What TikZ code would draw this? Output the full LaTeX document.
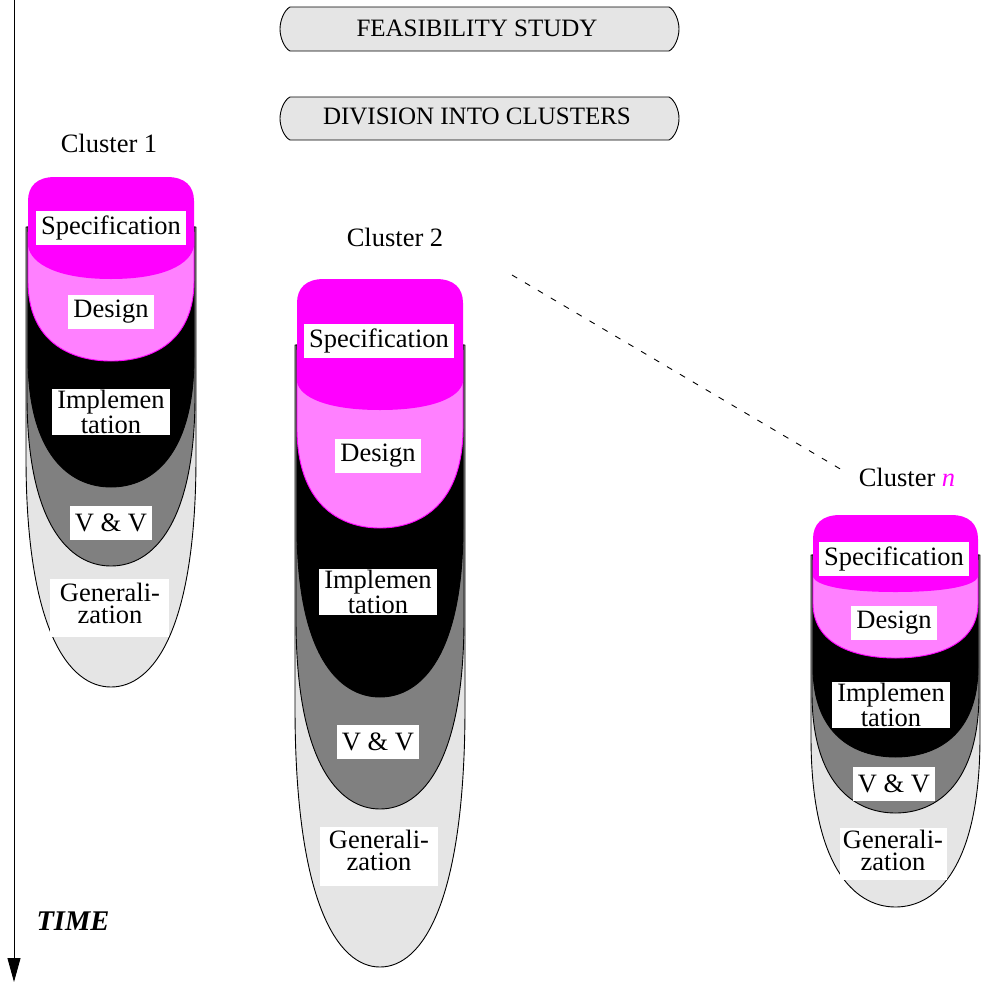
\documentclass[tikz,border=0pt]{standalone}
\usepackage{fontspec}
\setmainfont{Liberation Serif}
\usetikzlibrary{arrows.meta}
\definecolor{specc}{HTML}{FF00FF}
\definecolor{desc}{HTML}{FF80FF}
\definecolor{vvc}{HTML}{808080}
\definecolor{genc}{HTML}{E5E5E5}
% U-shaped layer: fill, draw, L, R, T, B, D
\newcommand{\ulayer}[7]{%
  \path[fill=#1,draw=#2,line width=0.9pt] (#3,#5) -- (#3,{#6-#7})
    .. controls (#3,{#6-0.25*#7}) and ({(#3+#4)/2-0.25*(#4-#3)},#6) .. ({(#3+#4)/2},#6)
    .. controls ({(#3+#4)/2+0.25*(#4-#3)},#6) and (#4,{#6-0.25*#7}) .. (#4,{#6-#7})
    -- (#4,#5) -- cycle;}
% specification cap: L, R, T, S, B
\newcommand{\specshape}[5]{%
  \path[fill=specc] (#1,#4) -- (#1,{#3+24})
    .. controls (#1,{#3+9}) and ({#1+9},#3) .. ({#1+27},#3) -- ({#2-27},#3)
    .. controls ({#2-9},#3) and (#2,{#3+9}) .. (#2,{#3+24}) -- (#2,#4)
    .. controls ({#2-3},{#4+0.55*(#5-#4)}) and ({#2-30},#5) .. ({(#1+#2)/2},#5)
    .. controls ({#1+30},#5) and ({#1+3},{#4+0.55*(#5-#4)}) .. (#1,#4) -- cycle;}
% top rounded box outline: L, R, T, B
\newcommand{\topshape}[4]{%
  \path[fill=genc,draw=black,line width=0.9pt] ({#1+10},#3) -- ({#2-10},#3)
    .. controls ({#2-4},{#3+3}) and (#2,{(#3+#4)/2-8}) .. (#2,{(#3+#4)/2})
    .. controls (#2,{(#3+#4)/2+8}) and ({#2-4},{#4-3}) .. ({#2-10},#4)
    -- ({#1+10},#4)
    .. controls ({#1+4},{#4-3}) and (#1,{(#3+#4)/2+8}) .. (#1,{(#3+#4)/2})
    .. controls (#1,{(#3+#4)/2-8}) and ({#1+4},{#3+3}) .. ({#1+10},#3) -- cycle;}
\begin{document}
\begin{tikzpicture}[x=1pt,y=-1pt,line join=round,
  lbl/.style={fill=white,inner xsep=5pt,inner ysep=2pt,align=center,
    font=\fontsize{26.5}{21}\selectfont,minimum height=34pt},
  gtxt/.style={inner sep=0pt,anchor=base,font=\fontsize{26.5}{21}\selectfont},
  gbox/.style={fill=white,inner sep=0pt},
  ttl/.style={font=\fontsize{26.5}{30}\selectfont,inner sep=0pt},
  boxtxt/.style={font=\fontsize{25}{30}\selectfont,inner sep=0pt}]
\useasboundingbox (0,0) rectangle (985,983);

% time axis
\coordinate (t0) at (14,0);
\coordinate (t1) at (14,982);
\draw[line width=0.9pt,-{Triangle[length=24pt,width=13pt]}] (t0) -- (t1);
\node[font=\fontsize{28.5}{30}\selectfont\bfseries\itshape,inner sep=0pt] (time) at (73,921) {TIME};

% top boxes
\topshape{280}{679}{7}{51}
\node[boxtxt] (feas) at (477,28) {FEASIBILITY STUDY};
\topshape{280}{679}{97}{140}
\node[boxtxt] (div) at (477,116) {DIVISION INTO CLUSTERS};

% cluster 1
\node[ttl] (c1t) at (109,143) {Cluster 1};
\ulayer{genc}{black}{26}{196}{227}{687}{230}
\ulayer{vvc}{black}{27}{195}{227}{566}{170}
\ulayer{black}{black}{28}{194}{227}{487}{130}
\ulayer{desc}{specc}{28}{194}{232}{361}{80}
\specshape{28}{194}{177}{246}{279}
\node[lbl] (c1s) at (111,228) {Specification};
\node[lbl] (c1d) at (111,312) {Design};
\node[lbl] (c1i) at (111,412) {Implemen\\tation};
\node[lbl] (c1v) at (111,523) {V \& V};
\node[gbox,minimum width=119pt,minimum height=58pt] (c1gb) at (109.5,608) {};
\node[gtxt] (c1g1) at (110,601) {Generali-};
\node[gtxt] (c1g2) at (110,623) {zation};

% cluster 2
\node[ttl] (c2t) at (395,237) {Cluster 2};
\ulayer{genc}{black}{295}{465}{345}{967}{260}
\ulayer{vvc}{black}{296}{464}{345}{809}{190}
\ulayer{black}{black}{297}{463}{345}{697}{170}
\ulayer{desc}{specc}{297}{463}{350}{528}{100}
\specshape{297}{463}{279}{382}{410}
\node[lbl] (c2s) at (379,341) {Specification};
\node[lbl] (c2d) at (378,456) {Design};
\node[lbl] (c2i) at (378,592) {Implemen\\tation};
\node[lbl] (c2v) at (378,742) {V \& V};
\node[gbox,minimum width=118pt,minimum height=59pt] (c2gb) at (379,856.5) {};
\node[gtxt] (c2g1) at (379,848) {Generali-};
\node[gtxt] (c2g2) at (379,870) {zation};

% cluster n
\node[ttl] (cnt) at (907,477) {Cluster \textcolor{specc}{\textit{n}}};
\ulayer{genc}{black}{811}{980}{555}{907}{170}
\ulayer{vvc}{black}{812}{979}{555}{813}{120}
\ulayer{black}{black}{813}{978}{555}{757}{90}
\ulayer{desc}{specc}{813}{978}{560}{658}{55}
\specshape{813}{978}{515}{577}{592}
\node[lbl] (cns) at (894,559) {Specification};
\node[lbl] (cnd) at (894,623) {Design};
\node[lbl] (cni) at (891,705) {Implemen\\tation};
\node[lbl] (cnv) at (894,784) {V \& V};
\node[gbox,minimum width=107pt,minimum height=52pt] (cngb) at (893.5,854) {};
\node[gtxt] (cng1) at (893,848) {Generali-};
\node[gtxt] (cng2) at (893,870) {zation};

% dashed continuation
\coordinate (d0) at (512,275);
\coordinate (d1) at (842,470);
\draw[line width=0.9pt,dash pattern=on 6pt off 9pt] (d0) -- (d1);
\end{tikzpicture}
\end{document}
